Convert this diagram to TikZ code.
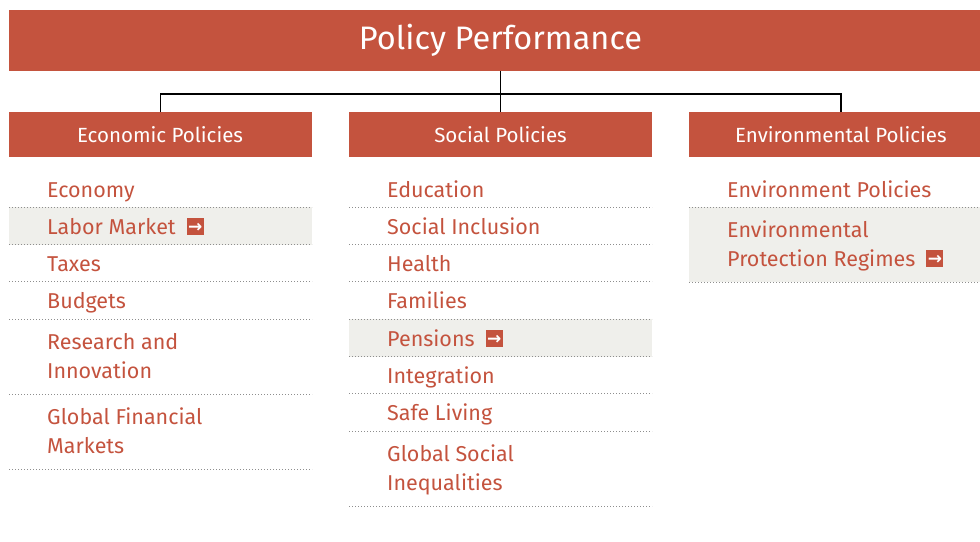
\documentclass[tikz,border=0pt]{standalone}
\usepackage{fontspec}
\setmainfont{Fira Sans}
\newfontfamily\arrowfont{DejaVu Sans}
\usetikzlibrary{positioning}
\definecolor{polred}{HTML}{C4533E}
\definecolor{rowgray}{HTML}{EFEFEB}
\definecolor{dotgray}{HTML}{8E8E8E}
% small red box with a white arrow, set after a linked entry
\newcommand{\golink}{\hspace{11pt}\raisebox{-0.5pt}{\setlength{\fboxsep}{0pt}\colorbox{polred}{\makebox[17pt]{\rule{0pt}{17pt}\raisebox{2.5pt}{\arrowfont\bfseries\fontsize{17}{17}\selectfont\color{white}→}}}}}

\begin{document}
\begin{tikzpicture}[
    x=1pt, y=-1pt,
    banner/.style={rectangle, fill=polred, text=white, minimum width=983pt, minimum height=61pt, font=\fontsize{32.5}{32.5}\selectfont},
    group/.style={rectangle, fill=polred, text=white, minimum width=303pt, minimum height=45pt, font=\fontsize{20.5}{20.5}\selectfont},
    item/.style={anchor=base west, inner sep=0pt, text=polred, align=left, font=\fontsize{21.5}{29.5}\selectfont},
    shade/.style={fill=rowgray},
    sep/.style={dotgray, line width=1pt, dash pattern=on 1pt off 2pt},
    link/.style={line width=1.2pt}
]
    \useasboundingbox (0,0) rectangle (980,541);
    \clip (0,0) rectangle (980,541);

    % Top and group headers
    \node [banner] (title) at (500.5,40.5) {Policy Performance};
    \node [group, below=41pt of title] (soc) {Social Policies};
    \node [group, left=37pt of soc] (eco) {Economic Policies};
    \node [group, right=37pt of soc] (env) {Environmental Policies};

    % Links
    \coordinate (bus) at (500.5,94);
    \draw [link] (title.south) -- (soc.north);
    \draw [link] (eco.north) |- (bus) -| (env.north);

    % Highlighted rows
    \fill [shade] (9,207.3) rectangle (312,244.6);
    \fill [shade] (349,319.2) rectangle (652,356.5);
    \fill [shade] (689,207.3) rectangle (992,282);

    % Economic policies
    \node [item] (economy) at (47,197) {Economy};
    \node [item] (labor) at (47,234.3) {Labor Market\golink};
    \node [item] (taxes) at (47,271.6) {Taxes};
    \node [item] (budgets) at (47,308.9) {Budgets};
    \node [item] (research) at (47,378.5) {Research and\\Innovation};
    \node [item] (finance) at (47,453.5) {Global Financial\\Markets};
    \draw [sep] (9,207.3) -- (312,207.3);
    \draw [sep] (9,244.6) -- (312,244.6);
    \draw [sep] (9,281.9) -- (312,281.9);
    \draw [sep] (9,319.2) -- (312,319.2);
    \draw [sep] (9,394.2) -- (312,394.2);
    \draw [sep] (9,469.2) -- (312,469.2);

    % Social policies
    \node [item] (education) at (387,197) {Education};
    \node [item] (inclusion) at (387,234.3) {Social Inclusion};
    \node [item] (health) at (387,271.6) {Health};
    \node [item] (families) at (387,308.9) {Families};
    \node [item] (pensions) at (387,346.2) {Pensions\golink};
    \node [item] (integration) at (387,383.5) {Integration};
    \node [item] (safety) at (387,420.8) {Safe Living};
    \node [item] (inequality) at (387,490.5) {Global Social\\Inequalities};
    \draw [sep] (349,207.3) -- (652,207.3);
    \draw [sep] (349,244.6) -- (652,244.6);
    \draw [sep] (349,281.9) -- (652,281.9);
    \draw [sep] (349,319.2) -- (652,319.2);
    \draw [sep] (349,356.5) -- (652,356.5);
    \draw [sep] (349,393.8) -- (652,393.8);
    \draw [sep] (349,431.1) -- (652,431.1);
    \draw [sep] (349,506) -- (652,506);

    % Environmental policies
    \node [item] (envpol) at (727,197) {Environment Policies};
    \node [item] (regimes) at (727,266.5) {Environmental\\Protection Regimes\golink};
    \draw [sep] (689,207.3) -- (992,207.3);
    \draw [sep] (689,282) -- (992,282);
\end{tikzpicture}
\end{document}
